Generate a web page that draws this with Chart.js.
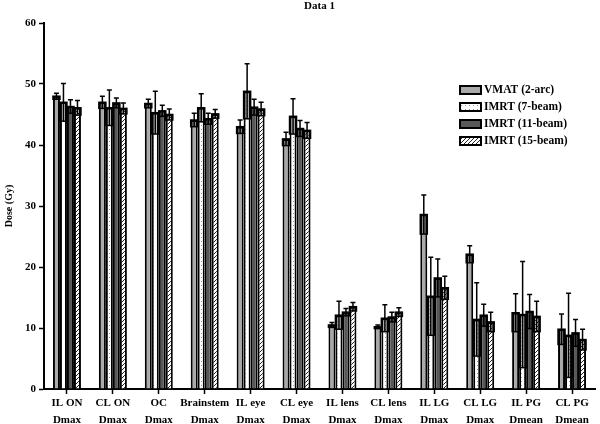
<!DOCTYPE html>
<html lang="en">
<head>
  <meta charset="UTF-8" />
  <title>Data 1</title>
  <script src="https://cdn.jsdelivr.net/npm/chart.js"></script>
  <style>
    body { margin: 0; background: #fff; }
    #wrap { width: 600px; height: 424px; position: relative; }
  </style>
</head>
<body>
  <div id="wrap"><canvas id="doseChart"></canvas></div>
  <script>
    // values (mean dose and standard deviation, Gy)
    const categories = [
      ['IL ON', 'Dmax'], ['CL ON', 'Dmax'], ['OC', 'Dmax'], ['Brainstem', 'Dmax'],
      ['IL eye', 'Dmax'], ['CL eye', 'Dmax'], ['IL lens', 'Dmax'], ['CL lens', 'Dmax'],
      ['IL LG', 'Dmax'], ['CL LG', 'Dmax'], ['IL PG', 'Dmean'], ['CL PG', 'Dmean']
    ];
    const seriesNames = ['VMAT (2-arc)', 'IMRT (7-beam)', 'IMRT (11-beam)', 'IMRT (15-beam)'];

    const vmat     = [48.0, 47.0, 46.8, 44.1, 43.0, 41.0, 10.5, 10.2, 28.6, 22.1, 12.5, 9.8];
    const vmatSd   = [0.5, 1.0, 0.7, 1.1, 1.1, 1.1, 0.4, 0.3, 3.2, 1.4, 3.1, 2.5];
    const imrt7    = [47.0, 46.1, 45.3, 46.1, 48.8, 44.7, 12.1, 11.6, 15.2, 11.4, 12.2, 8.8];
    const imrt7Sd  = [3.1, 2.9, 3.5, 2.3, 4.5, 2.9, 2.3, 2.2, 6.4, 6.0, 8.7, 6.9];
    const imrt11   = [46.3, 46.9, 45.6, 44.3, 46.2, 42.7, 12.6, 11.8, 18.2, 12.1, 12.7, 9.2];
    const imrt11Sd = [1.1, 0.8, 0.9, 0.9, 1.3, 1.3, 0.6, 0.8, 3.1, 1.8, 2.8, 2.2];
    const imrt15   = [46.1, 46.0, 45.0, 45.1, 45.9, 42.4, 13.5, 12.6, 16.6, 11.0, 11.9, 8.1];
    const imrt15Sd = [1.2, 0.9, 0.9, 0.7, 1.1, 1.3, 0.7, 0.7, 1.9, 1.6, 2.5, 1.7];

    const yTicks = [0, 10, 20, 30, 40, 50, 60];

    const serif = '"Liberation Serif", "Times New Roman", serif';

    // fill patterns
    function makePattern(draw) {
      const c = document.createElement('canvas');
      c.width = 4; c.height = 4;
      const g = c.getContext('2d');
      g.fillStyle = '#ffffff';
      g.fillRect(0, 0, 4, 4);
      draw(g);
      return g.createPattern(c, 'repeat');
    }
    const dots = makePattern(g => {
      g.fillStyle = '#9a9a9a';
      g.fillRect(1, 1, 1, 1);
    });
    const hatch = makePattern(g => {
      g.strokeStyle = '#222';
      g.lineWidth = 1;
      g.beginPath();
      g.moveTo(-1, 5); g.lineTo(5, -1);
      g.moveTo(3, 5); g.lineTo(5, 3);
      g.moveTo(-1, 1); g.lineTo(1, -1);
      g.stroke();
    });

    const fills = ['#a9a9a9', dots, '#585858', hatch];
    const values = [vmat, imrt7, imrt11, imrt15];
    const errors = [vmatSd, imrt7Sd, imrt11Sd, imrt15Sd];

    // error bars: lower half drawn as a box inside the bar, upper half as whisker with cap
    const errorBars = {
      id: 'errorBars',
      afterDatasetsDraw(chart) {
        const ctx = chart.ctx;
        const y = chart.scales.y;
        ctx.save();
        chart.data.datasets.forEach((ds, di) => {
          const meta = chart.getDatasetMeta(di);
          meta.data.forEach((bar, i) => {
            const m = ds.data[i], sd = ds.sd[i];
            const yTop = y.getPixelForValue(m + sd);
            const yLow = y.getPixelForValue(Math.max(0, m - sd));
            const w = bar.width;
            ctx.fillStyle = 'rgba(0,0,0,0.22)';
            ctx.fillRect(bar.x - w / 2, bar.y, w, yLow - bar.y);
            ctx.strokeStyle = '#000';
            ctx.lineWidth = 1.5;
            ctx.strokeRect(bar.x - w / 2, bar.y, w, yLow - bar.y);
            ctx.beginPath();
            ctx.moveTo(bar.x, yLow);
            ctx.lineTo(bar.x, yTop);
            ctx.moveTo(bar.x - 2.5, yTop);
            ctx.lineTo(bar.x + 2.5, yTop);
            ctx.stroke();
          });
        });
        ctx.restore();
      }
    };

    // title and legend drawn at their spots inside the frame
    const annotations = {
      id: 'annotations',
      afterDraw(chart) {
        const ctx = chart.ctx;
        const a = chart.chartArea;
        ctx.save();
        ctx.fillStyle = '#000';
        ctx.font = 'bold 11px ' + serif;
        ctx.textAlign = 'center';
        ctx.textBaseline = 'middle';
        ctx.fillText('Data 1', (a.left + a.right) / 2, 6);

        ctx.font = 'bold 11.5px ' + serif;
        ctx.textAlign = 'left';
        const lx = a.right - 135, ly = a.top + 67;
        chart.data.datasets.forEach((ds, i) => {
          const yy = ly + i * 17;
          ctx.fillStyle = ds.backgroundColor;
          ctx.fillRect(lx, yy - 4, 21, 8);
          ctx.strokeStyle = '#000';
          ctx.lineWidth = 2;
          ctx.strokeRect(lx, yy - 4, 21, 8);
          ctx.fillStyle = '#000';
          ctx.fillText(ds.label, lx + 24, yy);
        });
        ctx.restore();
      }
    };

    new Chart(document.getElementById('doseChart'), {
      type: 'bar',
      data: {
        labels: categories,
        datasets: seriesNames.map((name, i) => ({
          label: name,
          data: values[i],
          sd: errors[i],
          backgroundColor: fills[i],
          borderColor: '#000',
          borderWidth: 2,
          barPercentage: 1.0,
          categoryPercentage: 0.61
        }))
      },
      options: {
        responsive: true,
        maintainAspectRatio: false,
        animation: false,
        layout: { padding: { top: 23, right: 5, left: 0, bottom: 0 } },
        plugins: {
          legend: { display: false },
          title: { display: false },
          tooltip: { enabled: false }
        },
        scales: {
          x: {
            afterFit: s => { s.height = 35; },
            grid: { display: true, drawOnChartArea: false, offset: false, tickLength: 5, tickColor: '#000', tickWidth: 1.5 },
            border: { color: '#000', width: 2 },
            ticks: { color: '#000', font: { family: serif, weight: 'bold', size: 11, lineHeight: 1.5 }, padding: 1, maxRotation: 0, autoSkip: false }
          },
          y: {
            min: 0,
            max: 60,
            afterFit: s => { s.width = 44; },
            afterBuildTicks: s => { s.ticks = yTicks.map(v => ({ value: v })); },
            grid: { display: true, drawOnChartArea: false, tickLength: 5, tickColor: '#000', tickWidth: 1.5 },
            border: { color: '#000', width: 2 },
            ticks: { color: '#000', font: { family: serif, weight: 'bold', size: 11 }, padding: 3 },
            title: { display: true, text: 'Dose (Gy)', color: '#000', font: { family: serif, weight: 'bold', size: 10 }, padding: { top: 3, bottom: 0 } }
          }
        }
      },
      plugins: [errorBars, annotations]
    });
  </script>
</body>
</html>
